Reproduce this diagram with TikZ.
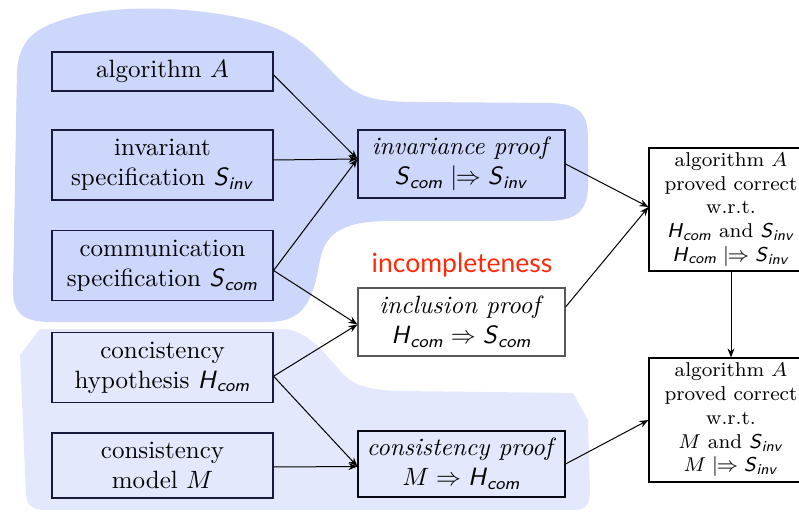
\documentclass[tikz,border=0pt]{standalone}
\usepackage{amsmath}
\usepackage{fontspec}
\newfontfamily\gillfont{Lato}
\usetikzlibrary{arrows.meta}
\definecolor{blobtop}{RGB}{205,214,251}
\definecolor{blobbot}{RGB}{227,232,252}
\definecolor{navyline}{RGB}{25,25,60}
\definecolor{incred}{RGB}{255,40,10}
\newcommand{\Sinv}{\ensuremath{\textsf{\textit{S}}_{\textsf{\textit{inv}}}}}
\newcommand{\Scom}{\ensuremath{\textsf{\textit{S}}_{\textsf{\textit{com}}}}}
\newcommand{\Hcom}{\ensuremath{\textsf{\textit{H}}_{\textsf{\textit{com}}}}}
\newcommand{\dmapsto}{\mathrel{|\mkern-6mu\Rightarrow}}
\begin{document}
\begin{tikzpicture}[x=0.4pt,y=-0.4pt,
  leftbox/.style={draw=navyline,line width=0.45pt,align=center,minimum width=88.4pt,inner sep=1pt},
  midbox/.style={draw=navyline,line width=0.45pt,align=center,minimum width=82.8pt,minimum height=27.2pt,inner sep=1pt},
  rightbox/.style={draw=black,line width=0.45pt,fill=white,align=center,minimum width=65.6pt,inner sep=1pt,font=\footnotesize},
  conn/.style={draw=black,line width=0.4pt,-{Stealth[length=3.6pt,width=2.8pt]}}]
\useasboundingbox (0,0) rectangle (799,512);
% blobs
\fill[blobtop] (13,290) -- (17,70) .. controls (20,35) and (40,25) .. (80,15)
  .. controls (130,4) and (200,8) .. (250,20)
  .. controls (300,32) and (315,55) .. (340,80)
  .. controls (360,98) and (375,102) .. (420,102) -- (550,103)
  .. controls (582,104) and (588,115) .. (588,140) -- (588,185)
  .. controls (588,212) and (575,220) .. (550,221) -- (385,221)
  .. controls (340,222) and (325,235) .. (320,260)
  .. controls (313,300) and (305,321) .. (270,322) -- (50,322)
  .. controls (20,322) and (13,310) .. (13,290) -- cycle;
\fill[blobbot] (40,329) -- (285,329)
  .. controls (310,331) and (328,358) .. (343,374)
  .. controls (355,386) and (370,390) .. (400,391) -- (573,393)
  -- (588,420) -- (590,490)
  .. controls (590,505) and (585,510) .. (575,510) -- (45,510)
  .. controls (32,510) and (27,505) .. (26,495) -- (20,355) -- cycle;
% left column
\node[leftbox,minimum height=15.6pt] (algA) at (162.5,71.5) {algorithm $A$};
\node[leftbox,minimum height=28pt] (invspec) at (162.5,165) {invariant\\specification \Sinv};
\node[leftbox,minimum height=28pt] (comspec) at (162.5,265.5) {communication\\specification \Scom};
\node[leftbox,minimum height=28pt] (hyp) at (162.5,367.5) {concistency\\hypothesis \Hcom};
\node[leftbox,minimum height=26pt] (model) at (162.5,465.5) {consistency\\model $M$};
% middle column
\node[midbox] (invp) at (461.5,164) {\textit{invariance proof}\\$\Scom \dmapsto \Sinv$};
\node[midbox,draw=black!65,fill=white] (inclp) at (461.5,322) {\textit{inclusion proof}\\$\Hcom \Rightarrow \Scom$};
\node[midbox,draw=black!65!navyline,minimum height=26.4pt] (consp) at (461.5,464) {\textit{consistency proof}\\$M \Rightarrow \Hcom$};
\node[text=incred,font=\gillfont\fontsize{10.6}{13}\selectfont] (incomp) at (462,265) {incompleteness};
% right column
\node[rightbox,minimum height=49.2pt] (rt) at (731,209.5) {algorithm $A$\\proved correct\\w.r.t.\\\Hcom{} and \Sinv\\$\Hcom \dmapsto \Sinv$};
\node[rightbox,minimum height=49.6pt] (rb) at (731,420) {algorithm $A$\\proved correct\\w.r.t.\\$M$ and \Sinv\\$M \dmapsto \Sinv$};
% connectors
\draw[conn] ([yshift=-1.4pt]algA.east) -- ([yshift=2pt]invp.west);
\draw[conn] ([yshift=2pt]invspec.east) -- ([yshift=2pt]invp.west);
\draw[conn] ([yshift=-2pt]comspec.east) -- ([yshift=2pt]invp.west);
\draw[conn] ([yshift=-2pt]comspec.east) -- ([yshift=-1pt]inclp.west);
\draw[conn] ([yshift=-3.5pt]hyp.east) -- ([yshift=-1pt]inclp.west);
\draw[conn] ([yshift=-3.5pt]hyp.east) -- ([yshift=-1pt]consp.west);
\draw[conn] ([yshift=-0.6pt]model.east) -- ([yshift=-1pt]consp.west);
\draw[conn] (invp.east) -- ([yshift=1pt]rt.west);
\draw[conn] ([yshift=6pt]inclp.east) -- ([yshift=1pt]rt.west);
\draw[conn] (consp.east) -- (rb.west);
\draw[conn] (rt.south) -- (rb.north);
\end{tikzpicture}
\end{document}
